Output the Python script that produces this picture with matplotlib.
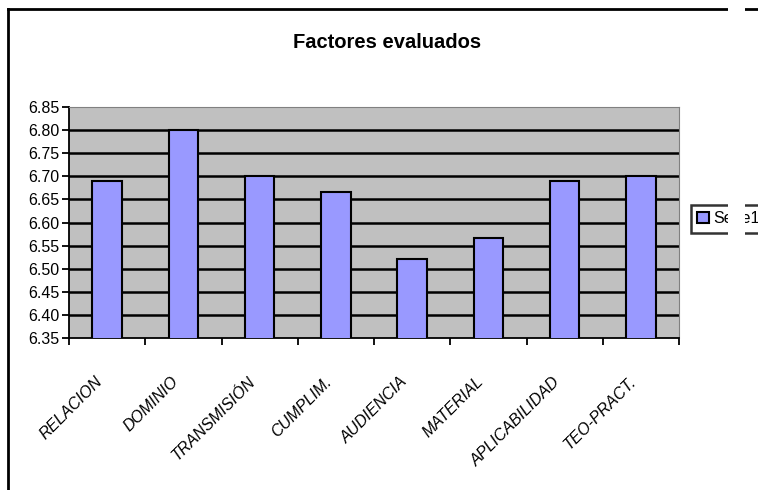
import matplotlib
matplotlib.use("Agg")
import matplotlib.pyplot as plt
from matplotlib.lines import Line2D
from matplotlib.patches import Rectangle

plt.rcParams['font.family'] = ['Liberation Sans', 'DejaVu Sans']

categorias = ["RELACION", "DOMINIO", "TRANSMISIÓN", "CUMPLIM.", "AUDIENCIA",
              "MATERIAL", "APLICABILIDAD", "TEO-PRACT."]
valores = [6.69, 6.80, 6.70, 6.665, 6.52, 6.567, 6.69, 6.70]
yticks = [6.35, 6.40, 6.45, 6.50, 6.55, 6.60, 6.65, 6.70, 6.75, 6.80, 6.85]

W, H = 758, 490
fig = plt.figure(figsize=(W / 100, H / 100), dpi=100)

# plot area in pixels: x 69..679, y 107..338
ax = fig.add_axes([69 / W, 1 - 338 / H, (679 - 69) / W, (338 - 107) / H])
ax.set_facecolor("#C0C0C0")

x = list(range(len(categorias)))
ax.bar(x, valores, width=0.39, bottom=0, color="#9999FF", edgecolor="black",
       linewidth=1.5, zorder=3, label="Serie1")

ax.set_ylim(6.35, 6.85)
ax.set_xlim(-0.5, len(categorias) - 0.5)
ax.set_yticks(yticks)
ax.set_yticklabels([f"{v:.2f}" for v in yticks], fontsize=11.5)
for v in yticks[1:-1]:
    ax.axhline(v, color="black", lw=1.8, zorder=1)

ax.set_xticks([i - 0.5 for i in range(len(categorias) + 1)])
ax.set_xticklabels([])
# labels sit a little left of the category centre, like in Excel
ax.set_xticks([i - 0.16 for i in x], minor=True)
ax.set_xticklabels(categorias, minor=True, rotation=45, ha="right", va="top",
                   rotation_mode="anchor", fontsize=11.5, style="italic")
ax.tick_params(axis="x", which="minor", length=0, pad=26)
ax.tick_params(axis="x", which="major", length=5, width=1.3, direction="out")
ax.tick_params(axis="y", length=5, width=1.3, direction="out", pad=2)

ax.spines["left"].set_color("black")
ax.spines["left"].set_linewidth(1.3)
ax.spines["bottom"].set_color("black")
ax.spines["bottom"].set_linewidth(1.3)
ax.spines["top"].set_color("#808080")
ax.spines["right"].set_color("#808080")

fig.text(387 / W, 1 - 42 / H, "Factores evaluados", ha="center", va="center",
         fontsize=14.5, fontweight="bold",
         family=["Liberation Sans Narrow", "Liberation Sans", "DejaVu Sans"])

leg = ax.legend(loc="upper left", bbox_to_anchor=(691 / W, 1 - 205 / H),
                bbox_transform=fig.transFigure, frameon=True, fancybox=False,
                fontsize=11.5, handlelength=0.7, handleheight=0.7,
                handletextpad=0.3, borderpad=0.4, borderaxespad=0)
leg.get_frame().set_edgecolor("black")
leg.get_frame().set_linewidth(1.8)

# outer frame of the chart
fig.add_artist(Line2D([8 / W, 8 / W], [0, 1 - 9 / H], color="black", lw=2,
                      transform=fig.transFigure))
fig.add_artist(Line2D([8 / W, 1], [1 - 9 / H, 1 - 9 / H], color="black", lw=2,
                      transform=fig.transFigure))
# white strip cutting through the frame and legend
fig.add_artist(Rectangle((728 / W, 0), 17 / W, 1, facecolor="white",
                         edgecolor="none", transform=fig.transFigure, zorder=10))

fig.savefig("out.png", dpi=100)
